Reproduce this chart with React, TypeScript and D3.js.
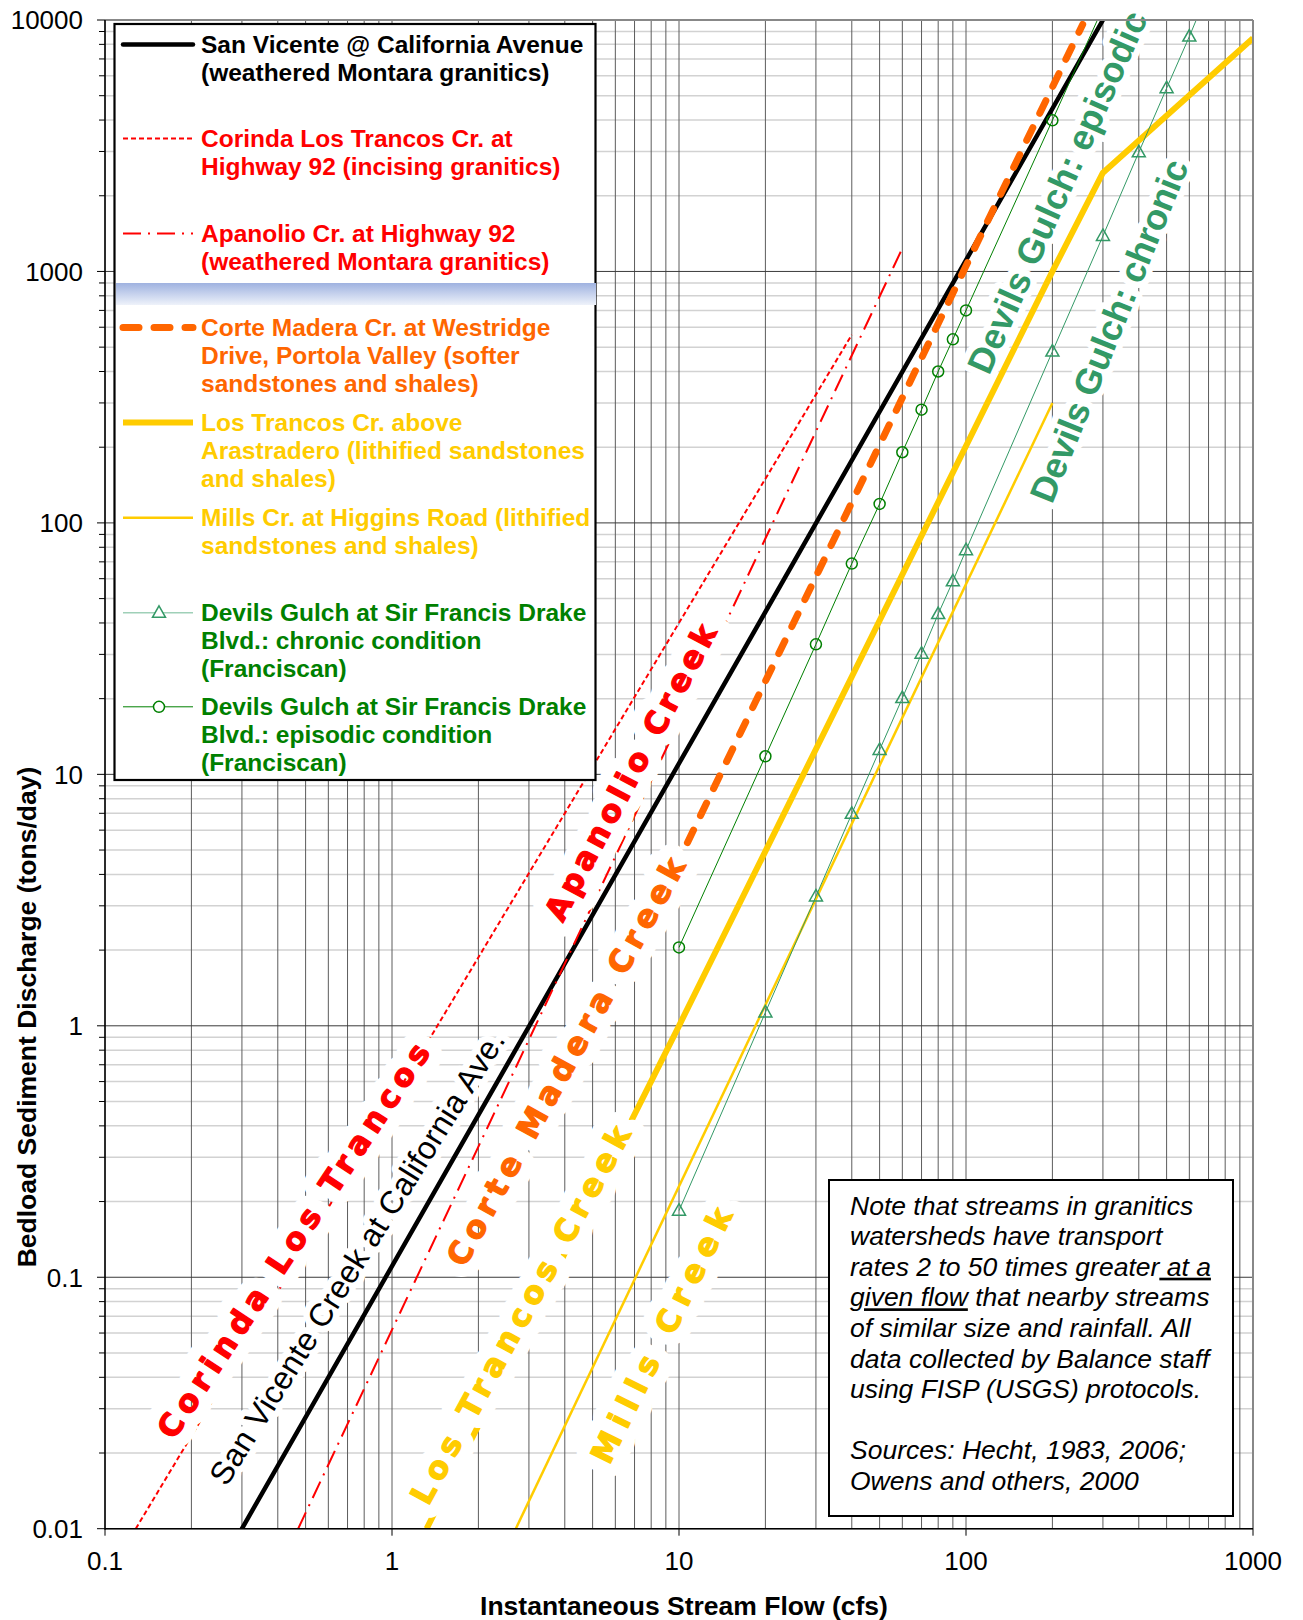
import React from 'react';
import * as d3 from 'd3';

const WIDTH = 1303;
const HEIGHT = 1620;
const PLOT = { left: 105, right: 1253, top: 20, bottom: 1528.7 };

const xTickValues = [0.1, 1, 10, 100, 1000];
const xTickLabels = ['0.1', '1', '10', '100', '1000'];
const yTickValues = [0.01, 0.1, 1, 10, 100, 1000, 10000];
const yTickLabels = ['0.01', '0.1', '1', '10', '100', '1000', '10000'];

// flow (cfs) and bedload (tons/day)
const sanVicenteQ = [0.3, 3.2, 300];
const sanVicenteS = [0.01, 1.13, 10000];
const corindaQ = [0.128, 40];
const corindaS = [0.01, 560];
const apanolioQ = [0.471, 60];
const apanolioS = [0.01, 1236];
const corteMaderaQ = [10.7, 255];
const corteMaderaS = [5.35, 9600];
const losTrancosQ = [1.32, 10, 200, 300, 1000];
const losTrancosS = [0.01, 1.0, 1000, 2470, 8460];
const millsQ = [2.7, 200];
const millsS = [0.01, 300];
const chronicQ = [10, 20, 30, 40, 50, 60, 70, 80, 90, 100, 200, 300, 400, 500, 600, 700];
const chronicS = [0.184, 1.13, 3.27, 6.97, 12.5, 20.1, 30.2, 43.4, 58.6, 77.9, 480, 1384, 2978, 5354, 8596, 13100];
const episodicQ = [10, 20, 30, 40, 50, 60, 70, 80, 90, 100, 200, 300];
const episodicS = [2.05, 11.8, 32.9, 68.9, 119, 191, 282, 400, 537, 700, 3991, 11190];

// in-chart labels
const labelText = ['Corinda Los Trancos', 'San Vicente Creek at California Ave.', 'Apanolio Creek', 'Corte Madera Creek',
  'Los Trancos Creek', 'Mills Creek', 'Devils Gulch: episodic', 'Devils Gulch: chronic'];
const labelQ = [0.453, 0.755, 6.77, 4.03, 2.8, 8.68, 208, 315];
const labelS = [0.1398, 0.1195, 10.18, 0.72, 0.0708, 0.0587, 2070, 581];
const labelAngle = [56.5, 58, 62, 61.2, 61.4, 63.7, 66, 68];
const labelLength = [466, 528, 330, 460, 425, 280, 392, 366];
const labelColor = ['#ff0000', '#000000', '#ff0000', '#ff6600', '#ffcc00', '#ffcc00', '#339966', '#339966'];
const labelKind = ['heavy', 'plain', 'heavy', 'heavy', 'heavy', 'heavy', 'bold', 'bold'];

const legendLines = [
  ['San Vicente @ California Avenue', '(weathered Montara granitics)'],
  ['Corinda Los Trancos Cr. at', 'Highway 92 (incising granitics)'],
  ['Apanolio Cr. at Highway 92', '(weathered Montara granitics)'],
  ['Corte Madera Cr. at Westridge', 'Drive, Portola Valley (softer', 'sandstones and shales)'],
  ['Los Trancos Cr. above', 'Arastradero (lithified sandstones', 'and shales)'],
  ['Mills Cr. at Higgins Road (lithified', 'sandstones and shales)'],
  ['Devils Gulch at Sir Francis Drake', 'Blvd.: chronic condition', '(Franciscan)'],
  ['Devils Gulch at Sir Francis Drake', 'Blvd.: episodic condition', '(Franciscan)'],
];
const legendTextColor = ['#000', '#ff0000', '#ff0000', '#ff6600', '#ffcc00', '#ffcc00', '#008000', '#008000'];
const legendRowY = [44.4, 138.5, 233.5, 327.6, 422.6, 517.7, 612.8, 706.8];

const noteLines = [
  'Note that streams in granitics',
  'watersheds have transport',
  'rates 2 to 50 times greater| at a',
  '|given flow| that nearby streams',
  'of similar size and rainfall. All',
  'data collected by Balance staff',
  'using FISP (USGS) protocols.',
  '',
  'Sources: Hecht, 1983, 2006;',
  'Owens and others, 2000',
];

const x = d3.scaleLog().domain([0.1, 1000]).range([PLOT.left, PLOT.right]);
const y = d3.scaleLog().domain([0.01, 10000]).range([PLOT.bottom, PLOT.top]);

const pairs = (q: number[], s: number[]) => q.map((v, i) => [v, s[i]] as [number, number]);
const line = d3.line<[number, number]>().x(d => x(d[0])).y(d => y(d[1]));

const series = [
  { key: 'sv', data: pairs(sanVicenteQ, sanVicenteS), color: '#000', width: 4.5, dash: '', cap: 'round' },
  { key: 'cor', data: pairs(corindaQ, corindaS), color: '#ff0000', width: 2, dash: '5 3', cap: 'butt' },
  { key: 'apa', data: pairs(apanolioQ, apanolioS), color: '#ff0000', width: 2, dash: '18 7 2 7', cap: 'butt' },
  { key: 'cm', data: pairs(corteMaderaQ, corteMaderaS), color: '#ff6600', width: 7, dash: '14 16', cap: 'round' },
  { key: 'lt', data: pairs(losTrancosQ, losTrancosS), color: '#ffcc00', width: 6, dash: '', cap: 'butt' },
  { key: 'mi', data: pairs(millsQ, millsS), color: '#ffcc00', width: 2.5, dash: '', cap: 'butt' },
  { key: 'ch', data: pairs(chronicQ, chronicS), color: '#339966', width: 1, dash: '', cap: 'butt' },
  { key: 'ep', data: pairs(episodicQ, episodicS), color: '#008000', width: 1, dash: '', cap: 'butt' },
];

const minorValues = (lo: number, hi: number) => {
  const out: number[] = [];
  for (let d = lo; d < hi; d *= 10) for (let k = 2; k <= 9; k++) out.push(d * k);
  return out;
};

const tri = 'M0,-7L6.5,4.5L-6.5,4.5Z';

const labelStyle = (kind: string) => {
  if (kind === 'heavy') return { fontFamily: '"DejaVu Sans", sans-serif', fontWeight: 'bold', fontSize: 31 };
  if (kind === 'bold') return { fontFamily: '"Liberation Sans", Arial, sans-serif', fontWeight: 'bold', fontSize: 36 };
  return { fontFamily: '"Liberation Sans", Arial, sans-serif', fontWeight: 'normal', fontSize: 32 };
};

export default function App() {
  const xMinor = minorValues(0.1, 1000);
  const yMinor = minorValues(0.01, 10000);
  const font = '"Liberation Sans", Arial, sans-serif';

  return (
    <div>
      <style>{'body{margin:0}'}</style>
      <svg width={WIDTH} height={HEIGHT} style={{ display: 'block', background: '#fff' }} fontFamily={font}>
        <defs>
          <clipPath id="plotClip">
            <rect x={PLOT.left} y={PLOT.top} width={PLOT.right - PLOT.left} height={PLOT.bottom - PLOT.top} />
          </clipPath>
          <linearGradient id="band" x1="0" y1="0" x2="0" y2="1">
            <stop offset="0" stopColor="#9fb2e0" />
            <stop offset="1" stopColor="#eef2fa" />
          </linearGradient>
        </defs>

        {/* grid */}
        {yMinor.map(v => (
          <line key={'hy' + v} x1={PLOT.left} x2={PLOT.right} y1={y(v)} y2={y(v)} stroke="#d2d2d2" strokeWidth={1.5} />
        ))}
        {xMinor.concat(xTickValues).map(v => (
          <line key={'vx' + v} x1={x(v)} x2={x(v)} y1={PLOT.top} y2={PLOT.bottom} stroke="#5c5c5c" strokeWidth={1} />
        ))}
        {yTickValues.map(v => (
          <line key={'hM' + v} x1={PLOT.left} x2={PLOT.right} y1={y(v)} y2={y(v)} stroke="#3a3a3a" strokeWidth={1} />
        ))}

        {/* series */}
        <g clipPath="url(#plotClip)">
          {series.map(s => (
            <path key={s.key} d={line(s.data) || ''} fill="none" stroke={s.color} strokeWidth={s.width}
              strokeDasharray={s.dash || undefined} strokeLinecap={s.cap as any} strokeLinejoin="round" />
          ))}
          {pairs(chronicQ, chronicS).map((d, i) => (
            <path key={'t' + i} d={tri} transform={`translate(${x(d[0])},${y(d[1])})`} fill="none" stroke="#339966" strokeWidth={1.5} />
          ))}
          {pairs(episodicQ, episodicS).map((d, i) => (
            <circle key={'c' + i} cx={x(d[0])} cy={y(d[1])} r={5.5} fill="none" stroke="#008000" strokeWidth={1.5} />
          ))}
        </g>

        {/* labels along the curves: white halo first, then the coloured text */}
        {labelText.map((t, i) => {
          const tf = `translate(${x(labelQ[i])},${y(labelS[i])}) rotate(${-labelAngle[i]})`;
          const st = labelStyle(labelKind[i]);
          const heavy = labelKind[i] === 'heavy';
          return (
            <g key={'lab' + i} transform={tf}>
              <text textAnchor="middle" dominantBaseline="central" fill="#fff" stroke="#fff"
                strokeWidth={heavy ? 27 : 13} strokeLinejoin="round" textLength={labelLength[i]} lengthAdjust="spacing" {...st}>
                {t}
              </text>
              <text textAnchor="middle" dominantBaseline="central" fill={labelColor[i]}
                stroke={heavy ? labelColor[i] : 'none'} strokeWidth={heavy ? 1.3 : 0} strokeLinejoin="round"
                textLength={labelLength[i]} lengthAdjust="spacing" {...st}>
                {t}
              </text>
            </g>
          );
        })}

        {/* axes */}
        <line x1={PLOT.left} x2={PLOT.right} y1={PLOT.top} y2={PLOT.top} stroke="#888" strokeWidth={2} />
        <line x1={PLOT.right} x2={PLOT.right} y1={PLOT.top} y2={PLOT.bottom} stroke="#888" strokeWidth={2} />
        <line x1={PLOT.left} x2={PLOT.left} y1={PLOT.top} y2={PLOT.bottom + 1} stroke="#000" strokeWidth={1.5} />
        <line x1={PLOT.left} x2={PLOT.right} y1={PLOT.bottom} y2={PLOT.bottom} stroke="#000" strokeWidth={1.5} />
        {yMinor.map(v => (
          <line key={'ym' + v} x1={PLOT.left - 6} x2={PLOT.left} y1={y(v)} y2={y(v)} stroke="#000" strokeWidth={1} />
        ))}
        {yTickValues.map((v, i) => (
          <g key={'yt' + v}>
            <line x1={PLOT.left - 8} x2={PLOT.left} y1={y(v)} y2={y(v)} stroke="#000" strokeWidth={1} />
            <text x={83} y={y(v) + 9.3} textAnchor="end" fontSize={26} fill="#000">{yTickLabels[i]}</text>
          </g>
        ))}
        {xTickValues.map((v, i) => (
          <g key={'xt' + v}>
            <line x1={x(v)} x2={x(v)} y1={PLOT.bottom} y2={PLOT.bottom + 7} stroke="#000" strokeWidth={1} />
            <text x={x(v)} y={1570} textAnchor="middle" fontSize={26} fill="#000">{xTickLabels[i]}</text>
          </g>
        ))}
        <text x={684} y={1615} textAnchor="middle" fontSize={26.5} fontWeight="bold" fill="#000">
          Instantaneous Stream Flow (cfs)
        </text>
        <text transform="translate(35.5,1017) rotate(-90)" textAnchor="middle" fontSize={26.5} fontWeight="bold" fill="#000">
          Bedload Sediment Discharge (tons/day)
        </text>

        {/* legend */}
        <rect x={114.5} y={24} width={481} height={756} fill="#fff" stroke="#000" strokeWidth={2.2} />
        <rect x={116} y={283} width={480} height={22} fill="url(#band)" />
        {legendLines.map((rows, i) => (
          <g key={'lg' + i}>
            {rows.map((r, j) => (
              <text key={j} x={201} y={legendRowY[i] + 8.5 + j * 27.9} fontSize={24.5} fontWeight="bold" fill={legendTextColor[i]}>
                {r}
              </text>
            ))}
          </g>
        ))}
        {series.map((s, i) => (
          <line key={'ls' + s.key} x1={123} x2={193} y1={legendRowY[i]} y2={legendRowY[i]}
            stroke={s.key === 'ch' ? '#9fd0b8' : s.color} strokeWidth={s.key === 'ch' ? 1.5 : s.width}
            strokeDasharray={s.key === 'cm' ? '16 15' : (s.dash || undefined)}
            strokeLinecap={s.cap as any} />
        ))}
        <path d={tri} transform={`translate(159,${legendRowY[6]})`} fill="#fff" stroke="#339966" strokeWidth={1.5} />
        <circle cx={159} cy={legendRowY[7]} r={5.5} fill="#fff" stroke="#008000" strokeWidth={1.5} />

        {/* note */}
        <rect x={829} y={1180} width={404} height={336} fill="#fff" stroke="#000" strokeWidth={2} />
        {noteLines.map((t, i) => {
          const parts = t.split('|');
          return (
            <text key={'n' + i} x={850} y={1214.5 + i * 30.6} fontSize={26.5} fontStyle="italic" fill="#000">
              {parts.map((p, k) => (
                <tspan key={k} textDecoration={k % 2 === 1 ? 'underline' : undefined}>{p}</tspan>
              ))}
            </text>
          );
        })}
      </svg>
    </div>
  );
}
